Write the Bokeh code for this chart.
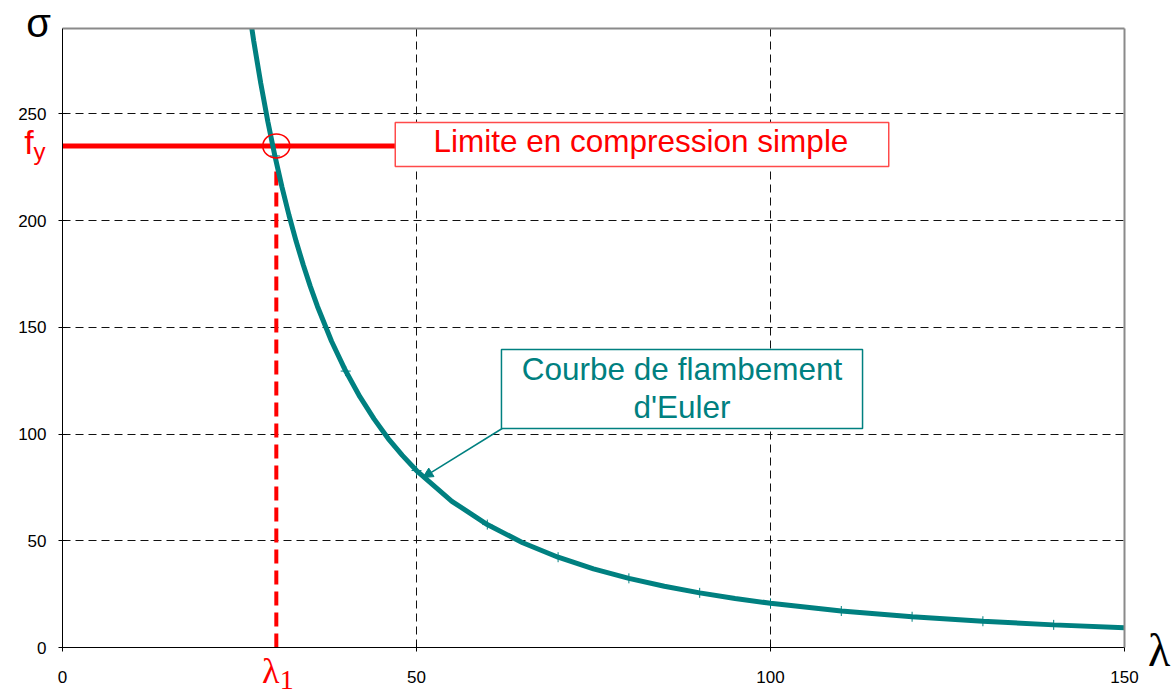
from bokeh.plotting import figure
from bokeh.layouts import column
from bokeh.models import Range1d, FixedTicker, LinearAxis, Label, Arrow, NormalHead
from bokeh.core.properties import value
from bokeh.embed import file_html
from bokeh.resources import INLINE

# ---- data ----
lam = [26, 27, 28, 29, 30, 31, 32, 33, 34, 35, 36, 38, 40, 42, 44, 46, 48, 50,
       55, 60, 65, 70, 75, 80, 85, 90, 95, 100, 110, 120, 130, 140, 150]
sigma = [306.6, 284.3, 264.4, 246.4, 230.3, 215.7, 202.4, 190.3, 179.3, 169.2, 159.9,
         143.5, 129.5, 117.5, 107.1, 97.9, 90.0, 82.9, 68.5, 57.6, 49.1, 42.3, 36.8,
         32.4, 28.7, 25.6, 23.0, 20.7, 17.1, 14.4, 12.3, 10.6, 9.2]
marker_lam = [30, 40, 50, 60, 70, 80, 90, 100, 110, 120, 130, 140, 150]
marker_sigma = [230.3, 129.5, 82.9, 57.6, 42.3, 32.4, 25.6, 20.7, 17.1, 14.4, 12.3, 10.6, 9.2]
fy = 235
lambda1 = 30.2
x_ticks = [0, 50, 100, 150]
y_ticks = [0, 50, 100, 150, 200, 250]

TEAL = "#008080"
RED = "#ff0000"
SANS = "Liberation Sans"
SERIF = "Liberation Serif"

W, H = 1174, 695
BL, BR, BT, BB = 62, 50, 28, 48
X0, X1, Y0, Y1 = 0, 150, 0, 290

p = figure(width=W, height=H, x_range=Range1d(X0, X1), y_range=Range1d(Y0, Y1),
           output_backend="svg", toolbar_location=None,
           min_border_left=BL, min_border_right=BR, min_border_top=BT, min_border_bottom=BB)
p.outline_line_color = None
p.background_fill_color = "white"
p.border_fill_color = "white"

for ax, ticks in ((p.xaxis, x_ticks), (p.yaxis, y_ticks)):
    ax.ticker = FixedTicker(ticks=ticks)
    ax.axis_line_color = "black"
    ax.axis_line_width = 1
    ax.major_tick_in = 4
    ax.major_tick_out = 4
    ax.major_tick_line_color = "black"
    ax.minor_tick_line_color = None
    ax.major_label_text_font = SANS
    ax.major_label_text_font_size = "17px"
    ax.major_label_text_color = "black"
p.yaxis.major_label_standoff = 12
p.xaxis.major_label_standoff = 19

p.xgrid.ticker = FixedTicker(ticks=[t for t in x_ticks if 0 < t < 150])
p.ygrid.ticker = FixedTicker(ticks=[t for t in y_ticks if t > 0])
for g in (p.xgrid, p.ygrid):
    g.grid_line_color = "#111111"
    g.grid_line_dash = "8 5"
    g.grid_line_width = 1

for side in ("above", "right"):
    a = LinearAxis(axis_line_color="#8a8a8a", axis_line_width=2,
                   major_tick_line_color=None, minor_tick_line_color=None,
                   major_label_text_font_size="0px", ticker=FixedTicker(ticks=[]))
    p.add_layout(a, side)

# compression limit
box_r = dict(left=47.0, right=116.7, bottom=225.4, top=246.0)
p.segment(x0=0, y0=fy, x1=box_r["left"], y1=fy, line_color=RED, line_width=5)
p.segment(x0=lambda1, y0=0, x1=lambda1, y1=226, line_color=RED, line_width=4,
          line_dash="14 7")

# Euler curve
p.line(lam, sigma, line_color=TEAL, line_width=5)
p.scatter(marker_lam, marker_sigma, marker="cross", size=10, line_color=TEAL, line_width=1)

p.ellipse(x=[lambda1], y=[fy], width=27, height=24, width_units="screen",
          height_units="screen", fill_color=None, line_color=RED, line_width=1.5)

# boxes
p.quad(left=[box_r["left"]], right=[box_r["right"]], bottom=[box_r["bottom"]], top=[box_r["top"]],
       fill_color="white", line_color="#ff4a4a", line_width=1.5)
p.add_layout(Label(x=81.7, y=237.2, text="Limite en compression simple", text_font=SANS,
                   text_font_size="31.5px", text_color=RED, text_align="center",
                   text_baseline="alphabetic"))

p.quad(left=[62.0], right=[113.0], bottom=[102.6], top=[139.6],
       fill_color="white", line_color=TEAL, line_width=1.5)
p.add_layout(Label(x=87.5, y=130.5, text="Courbe de flambement", text_font=SANS,
                   text_font_size="31.5px", text_color=TEAL, text_align="center",
                   text_baseline="alphabetic"))
p.add_layout(Label(x=87.5, y=112.5, text="d'Euler", text_font=SANS,
                   text_font_size="31.5px", text_color=TEAL, text_align="center",
                   text_baseline="alphabetic"))
p.add_layout(Arrow(x_start=62.1, y_start=102.6, x_end=50.9, y_end=79.6,
                   line_color=TEAL, line_width=1.5,
                   end=NormalHead(size=10, fill_color=TEAL, line_color=TEAL)))

# transparent overlay: its frame is aligned horizontally with the main frame by the
# column layout and spans the full canvas height; symbols left/right of the frame
# are placed as Labels in its side panels (not clipped)
ky = (H - BT - BB) / (Y1 - Y0)
ov = figure(width=W, height=H,
            x_range=Range1d(X0, X1),
            y_range=Range1d(Y0 - BB / ky, Y1 + BT / ky),
            x_axis_type=None, y_axis_type=None, title=None,
            output_backend="svg", toolbar_location=None, min_border=0)
ov.outline_line_color = None
ov.background_fill_alpha = 0
ov.border_fill_alpha = 0
ov.margin = (-H, 0, 0, 0)


def side_label(place, x, y, t, font, size, color, align):
    ov.add_layout(Label(x=x, y=y, text=t, text_font=font, text_font_size=size,
                        text_color=color, text_align=align, text_baseline="middle"), place)


side_label("left", -3.39, 292.8, "σ", SANS, "40px", "black", "center")
side_label("left", -5.4, 236.9, "f", SANS, "34px", RED, "left")
side_label("left", -4.1, 232.3, "y", SANS, "24px", RED, "left")
side_label("right", 154.9, -1.2, "λ", SERIF, "46px", "black", "center")

ov.text(x=[29.4], y=[-11.2], text=["λ"], text_font=value(SERIF), text_font_size="36px",
        text_color=RED, text_align="center", text_baseline="middle")
ov.text(x=[30.7], y=[-15.2], text=["1"], text_font=value(SERIF), text_font_size="28px",
        text_color=RED, text_align="left", text_baseline="middle")

layout = column(p, ov, spacing=0)
open("out.html", "w").write(file_html(layout, INLINE))
